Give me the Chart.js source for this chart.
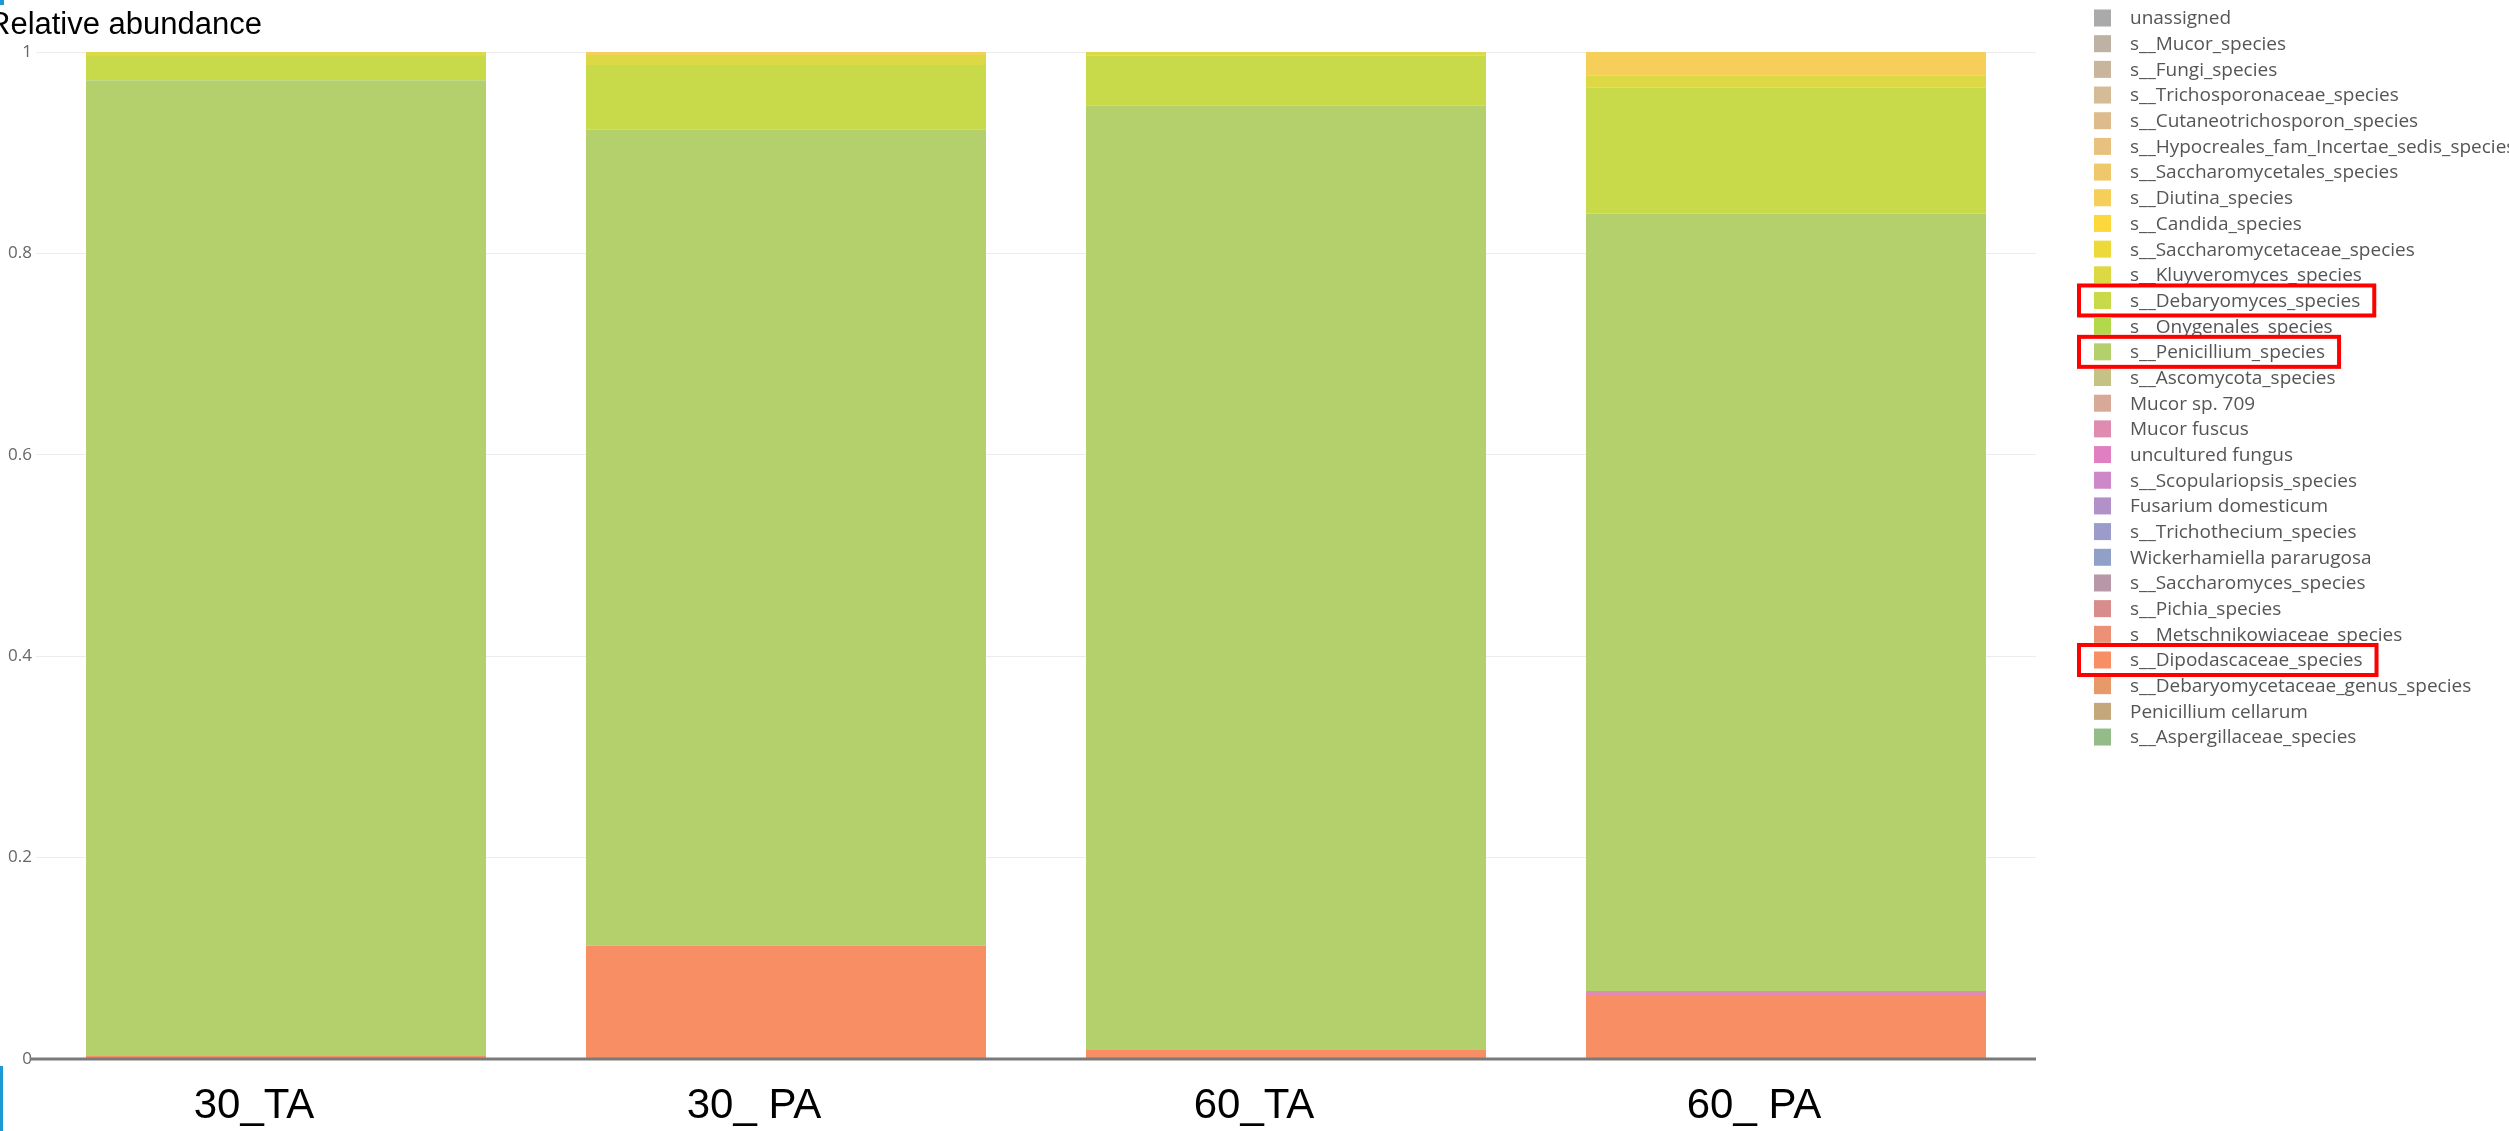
<!DOCTYPE html>
<html>
<head>
<meta charset="utf-8">
<script src="https://cdn.jsdelivr.net/npm/chart.js@4.4.1/dist/chart.umd.min.js"></script>
<style>
  html, body { margin: 0; padding: 0; background: #fff; overflow: hidden; }
  #chart { display: block; }
</style>
</head>
<body>
<canvas id="chart" width="2509" height="1131"></canvas>
<script>
// Samples on the x axis
const categories = ['30_TA', '30_ PA', '60_TA', '60_ PA'];

// Legend entries, top to bottom (stacking order is the reverse)
const speciesLabels = [
  'unassigned', 's__Mucor_species', 's__Fungi_species', 's__Trichosporonaceae_species',
  's__Cutaneotrichosporon_species', 's__Hypocreales_fam_Incertae_sedis_species',
  's__Saccharomycetales_species', 's__Diutina_species', 's__Candida_species',
  's__Saccharomycetaceae_species', 's__Kluyveromyces_species', 's__Debaryomyces_species',
  's__Onygenales_species', 's__Penicillium_species', 's__Ascomycota_species',
  'Mucor sp. 709', 'Mucor fuscus', 'uncultured fungus', 's__Scopulariopsis_species',
  'Fusarium domesticum', 's__Trichothecium_species', 'Wickerhamiella pararugosa',
  's__Saccharomyces_species', 's__Pichia_species', 's__Metschnikowiaceae_species',
  's__Dipodascaceae_species', 's__Debaryomycetaceae_genus_species', 'Penicillium cellarum',
  's__Aspergillaceae_species'
];

const speciesColors = [
  '#aaaaaa', '#bdb2a4', '#c8b59c', '#d4bc96', '#ddbb8c', '#e8c180',
  '#f0c86c', '#f5cf5a', '#fdd83c', '#eed93c', '#dcd944', '#c8da4a',
  '#b3d84c', '#b4d06c', '#c6c286', '#d8a898', '#e08cb0', '#e080c2',
  '#cc88c8', '#b290c8', '#9c9ccc', '#90a0c8', '#b898a8', '#d88c8c',
  '#ec9078', '#f88f64', '#e8996a', '#c4a87c', '#94bc88'
];

// Non-zero abundances per sample (all other species are 0)
const dipodascaceae = [0.003, 0.1126, 0.009, 0.0636];
const mucorFuscus   = [0, 0, 0, 0.004];
const penicillium   = [0.969, 0.8104, 0.9376, 0.7721];
const debaryomyces  = [0.024, 0.064, 0.0497, 0.1247];
const kluyveromyces = [0.004, 0.010, 0.0037, 0.012];
const diutina       = [0, 0.003, 0, 0.0236];

const yTicks = [0, 0.2, 0.4, 0.6, 0.8, 1];

// Species highlighted with a red frame in the legend
const highlighted = ['s__Debaryomyces_species', 's__Penicillium_species', 's__Dipodascaceae_species'];

const seriesValues = {
  's__Dipodascaceae_species': dipodascaceae,
  'Mucor fuscus': mucorFuscus,
  's__Penicillium_species': penicillium,
  's__Debaryomyces_species': debaryomyces,
  's__Kluyveromyces_species': kluyveromyces,
  's__Diutina_species': diutina
};

// Build datasets bottom-up (last legend entry sits at the bottom of the stack)
const datasets = speciesLabels.map((label, i) => ({
  label: label,
  data: seriesValues[label] || [0, 0, 0, 0],
  backgroundColor: speciesColors[i],
  borderWidth: 0,
  categoryPercentage: 0.8,
  barPercentage: 1.0
})).reverse();

// Draws title, legend, highlight boxes, the zero line and the edge marks
const decorations = {
  id: 'decorations',
  afterDatasetsDraw(chart) {
    const ctx = chart.ctx;
    const y = chart.scales.y;
    const area = chart.chartArea;
    const zero = y.getPixelForValue(0);
    ctx.save();
    ctx.strokeStyle = '#7a7a7a';
    ctx.lineWidth = 3;
    ctx.beginPath();
    ctx.moveTo(area.left - 6, zero);
    ctx.lineTo(area.right, zero);
    ctx.stroke();
    ctx.restore();
  },
  afterDraw(chart) {
    const ctx = chart.ctx;
    ctx.save();

    // axis title
    ctx.fillStyle = '#000';
    ctx.font = '31px "Liberation Sans", Arial, sans-serif';
    ctx.textBaseline = 'alphabetic';
    ctx.textAlign = 'left';
    ctx.fillText('Relative abundance', -12, 34);

    // legend
    const boxX = 2094, textX = 2130, top = 18, step = 25.68;
    ctx.font = '19px "Open Sans", sans-serif';
    ctx.textBaseline = 'middle';
    speciesLabels.forEach((label, i) => {
      const cy = top + i * step;
      ctx.fillStyle = speciesColors[i];
      ctx.fillRect(boxX, cy - 8.5, 17, 17);
      ctx.fillStyle = '#555';
      ctx.fillText(label, textX, cy + 1);
      if (highlighted.includes(label)) {
        const w = ctx.measureText(label).width;
        ctx.strokeStyle = '#ff0000';
        ctx.lineWidth = 4;
        ctx.strokeRect(2079, cy - 15, textX + w + 14 - 2079, 30);
      }
    });

    // small blue marks at the left edge
    ctx.fillStyle = '#1d9ad6';
    ctx.fillRect(0, 0, 4, 5);
    ctx.fillRect(0, 1066, 3, 65);
    ctx.restore();
  }
};

new Chart(document.getElementById('chart'), {
  type: 'bar',
  data: {
    labels: categories,
    datasets: datasets
  },
  options: {
    responsive: false,
    animation: false,
    devicePixelRatio: 1,
    layout: {
      padding: { top: 52, right: 473, left: 0, bottom: 0 }
    },
    plugins: {
      legend: { display: false },
      tooltip: { enabled: false }
    },
    scales: {
      x: {
        stacked: true,
        grid: { display: false, drawTicks: false },
        border: { display: false },
        ticks: {
          color: '#000',
          padding: 22,
          labelOffset: -32,
          font: { family: '"Liberation Sans", Arial, sans-serif', size: 42 }
        },
        afterFit: scale => { scale.height = 72; }
      },
      y: {
        stacked: true,
        min: 0,
        max: 1,
        afterBuildTicks: scale => { scale.ticks = yTicks.map(v => ({ value: v })); },
        grid: { color: '#ececec', lineWidth: 1, drawTicks: false },
        border: { display: false },
        ticks: {
          color: '#666',
          padding: 4,
          font: { family: '"Open Sans", sans-serif', size: 17 },
          callback: v => String(v)
        },
        afterFit: scale => { scale.width = 36; }
      }
    }
  },
  plugins: [decorations]
});
</script>
</body>
</html>
